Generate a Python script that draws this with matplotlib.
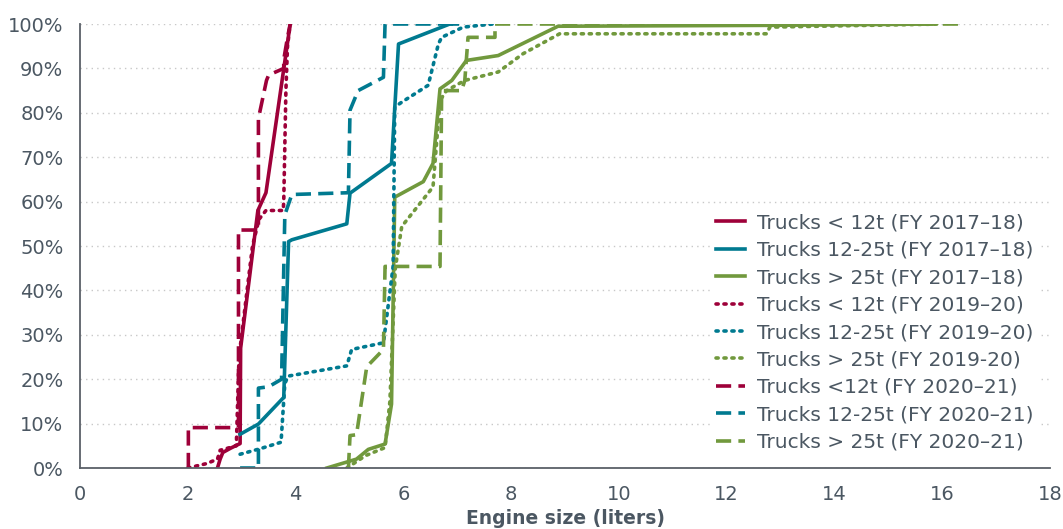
import matplotlib
matplotlib.use("Agg")
import matplotlib.pyplot as plt

plt.rcParams['font.family'] = ['DejaVu Sans']

# engine size (liters) vs cumulative share (%)
small_1718_x = [2.55, 2.6, 2.65, 2.8, 2.97, 2.98, 3.3, 3.45, 3.9]
small_1718_y = [0, 2, 3.5, 4.5, 5.5, 27, 58, 62, 100]
mid_1718_x = [2.97, 3.31, 3.78, 3.87, 3.93, 4.95, 5.01, 5.78, 5.91, 6.86, 7.0]
mid_1718_y = [7.6, 9.9, 15.9, 51, 51.4, 55, 61.9, 68.6, 95.5, 100, 100]
large_1718_x = [4.58, 5.13, 5.35, 5.66, 5.78, 5.84, 6.37, 6.55, 6.68, 6.9, 7.17, 7.76, 8.87, 12.8, 15.8]
large_1718_y = [0, 2, 4.2, 5.4, 14.4, 61, 64.5, 68.6, 85.4, 87.3, 91.8, 92.9, 99.5, 99.7, 100]

small_1920_x = [2.0, 2.35, 2.55, 2.6, 2.9, 2.95, 3.0, 3.2, 3.32, 3.45, 3.77, 3.78, 3.82, 3.85, 3.9]
small_1920_y = [0, 1, 2, 4, 5, 25, 30, 50, 56, 58, 58, 60, 85, 95, 100]
mid_1920_x = [2.97, 3.33, 3.73, 3.8, 3.86, 4.95, 5.04, 5.63, 5.81, 5.84, 5.97, 6.46, 6.65, 6.71, 7.11, 7.66]
mid_1920_y = [3.1, 4.3, 5.8, 19, 20.7, 23, 26.7, 28.2, 45.4, 81.3, 82.4, 86.2, 95.5, 97, 99.3, 100]
large_1920_x = [4.95, 5.3, 5.66, 5.75, 5.85, 5.97, 6.55, 6.68, 6.8, 7.14, 7.76, 8.22, 8.9, 12.74, 12.8, 16.0]
large_1920_y = [0, 2.8, 4.6, 15, 45, 54.4, 63.3, 82.8, 85, 87.3, 89.2, 93.3, 97.8, 97.8, 99.3, 100]

small_2021_x = [2.01, 2.01, 2.94, 2.94, 3.31, 3.31, 3.46, 3.5, 3.78, 3.78, 3.85, 3.9]
small_2021_y = [0, 9.1, 9.1, 53.6, 53.6, 78.7, 87.3, 88.5, 90, 92, 97, 100]
mid_2021_x = [2.97, 3.31, 3.31, 3.5, 3.74, 3.8, 3.93, 4.98, 5.01, 5.16, 5.63, 5.66, 7.0]
mid_2021_y = [0, 0, 18, 18.3, 20, 57, 61.6, 62, 80.6, 85, 88, 100, 100]
large_2021_x = [4.98, 5.01, 5.13, 5.32, 5.63, 5.66, 6.68, 6.71, 7.08, 7.14, 7.2, 7.7, 7.7, 16.4]
large_2021_y = [0, 7.3, 7.5, 22.8, 26.7, 45.4, 45.4, 85, 85, 87.3, 97, 97, 100, 100]

red = '#9E0039'
blue = '#007A90'
green = '#71993D'
txt = '#4B5762'

fig = plt.figure(figsize=(10.63, 5.29), dpi=100)
ax = fig.add_axes([0.0753, 0.1153, 0.9125, 0.8393])

lw = 2.6
dot = (0, (0.6, 1.6))
dash = (0, (4.2, 2.0))
ax.plot(small_1718_x, small_1718_y, color=red, lw=lw, label='Trucks < 12t (FY 2017–18)')
ax.plot(mid_1718_x, mid_1718_y, color=blue, lw=lw, label='Trucks 12-25t (FY 2017–18)')
ax.plot(large_1718_x, large_1718_y, color=green, lw=lw, label='Trucks > 25t (FY 2017–18)')
ax.plot(small_1920_x, small_1920_y, color=red, lw=lw, ls=dot, dash_capstyle='round', label='Trucks < 12t (FY 2019–20)')
ax.plot(mid_1920_x, mid_1920_y, color=blue, lw=lw, ls=dot, dash_capstyle='round', label='Trucks 12-25t (FY 2019–20)')
ax.plot(large_1920_x, large_1920_y, color=green, lw=lw, ls=dot, dash_capstyle='round', label='Trucks > 25t (FY 2019-20)')
ax.plot(small_2021_x, small_2021_y, color=red, lw=lw, ls=dash, label='Trucks <12t (FY 2020–21)')
ax.plot(mid_2021_x, mid_2021_y, color=blue, lw=lw, ls=dash, label='Trucks 12-25t (FY 2020–21)')
ax.plot(large_2021_x, large_2021_y, color=green, lw=lw, ls=dash, label='Trucks > 25t (FY 2020–21)')

ax.set_xlim(0, 18)
ax.set_ylim(0, 100)
ax.set_xticks(range(0, 19, 2))
ax.set_yticks(range(0, 101, 10))
ax.set_yticklabels([f'{v}%' for v in range(0, 101, 10)])
ax.tick_params(length=0, labelsize=14, colors=txt)
ax.tick_params(axis='y', pad=12)
ax.tick_params(axis='x', pad=12)
ax.yaxis.grid(True, color='#c8c8c8', ls=(0, (1, 3)), lw=1)
ax.set_axisbelow(True)
for s in ['top', 'right']:
    ax.spines[s].set_visible(False)
for s in ['left', 'bottom']:
    ax.spines[s].set_color('#5a6068')
    ax.spines[s].set_linewidth(1.3)

ax.set_xlabel('Engine size (liters)', fontsize=13.5, color=txt, fontweight='bold', labelpad=4)

leg = ax.legend(loc='lower right', bbox_to_anchor=(1.0, 0.0), frameon=True, fontsize=14.5,
                handlelength=1.45, handletextpad=0.6, labelspacing=0.42, borderpad=0.2,
                borderaxespad=0.6)
leg.get_frame().set_facecolor('white')
leg.get_frame().set_edgecolor('none')
leg.get_frame().set_alpha(1)
for t in leg.get_texts():
    t.set_color(txt)

fig.savefig('out.png', dpi=100)
